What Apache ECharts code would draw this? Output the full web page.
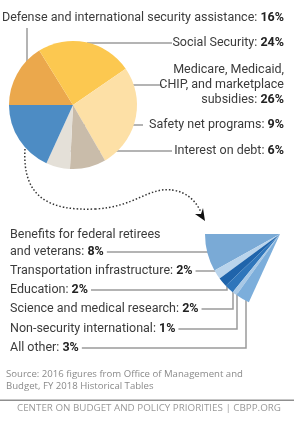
<!DOCTYPE html>
<html>
<head>
<meta charset="utf-8">
<script src="https://cdn.jsdelivr.net/npm/echarts@6/dist/echarts.min.js"></script>
<style>
  html, body { margin: 0; padding: 0; background: #fff; }
  #chart { width: 299px; height: 426px; }
</style>
</head>
<body>
<div id="chart"></div>
<script>
// main pie, clockwise from 9 o'clock
var mainNames = [
  'Defense and international security assistance',
  'Social Security',
  'Medicare, Medicaid,\nCHIP, and marketplace\nsubsidies',
  'Safety net programs',
  'Interest on debt'
];
var mainValues = [16, 24, 26, 9, 6];
var mainColors = ['#eba84c', '#fcc850', '#fde0a6', '#c9bcaa', '#e4e0d8', '#4d8cc4'];

// the blue slice, broken out into the fan
var subNames = [
  'Benefits for federal retirees\nand veterans',
  'Transportation infrastructure',
  'Education',
  'Science and medical research',
  'Non-security international',
  'All other'
];
var subValues = [8, 2, 2, 2, 1, 3];
var subColors = ['#7aaad6', '#b9d4ec', '#1f64ab', '#2f76bb', '#a9c9e6', '#7caedb'];

var sourceLines = [
  'Source: 2016 figures from Office of Management and',
  'Budget, FY 2018 Historical Tables'
];
var footer = 'CENTER ON BUDGET AND POLICY PRIORITIES | CBPP.ORG';

var FONT = 'Roboto, sans-serif';
var FS = 12.5;

var sum = function (a) { return a.reduce(function (s, v) { return s + v; }, 0); };
var otherTotal = sum(subValues);

// where the labels sit and where their leader lines start
var mainLabelPos = [
  { y: 18, line: [[27, 62], [27, 28], [27, 28]] },
  { y: 43, line: [[87, 43], [172, 43], [172, 43]] },
  { y: 84.5, line: [[133, 85], [162, 85], [162, 85]] },
  { y: 125, line: [[84, 125], [143, 125], [143, 125]] },
  { y: 151, line: [[68, 151], [172, 151], [172, 151]] }
];
var subLabelPos = [
  { y: 243.5, ly: 252, from: [212, 252] },
  { y: 271, ly: 271, from: [221, 271] },
  { y: 290, ly: 290, from: [227, 283] },
  { y: 309, ly: 309, from: [233, 289] },
  { y: 329, ly: 329, from: [237, 292] },
  { y: 348, ly: 348, from: [246, 297] }
];

var ctx = document.createElement('canvas').getContext('2d');
function textWidth(s, bold) {
  ctx.font = (bold ? 'bold ' : '') + FS + 'px ' + FONT;
  return ctx.measureText(s).width;
}

function richLabel(name, value) {
  var lines = name.split('\n');
  return lines.map(function (l, i) {
    if (i === lines.length - 1) return '{n|' + l + ': }{b|' + value + '%}';
    return '{n|' + l + '}';
  }).join('\n');
}

function richStyle(lh) {
  return {
    n: { fontFamily: FONT, fontSize: FS, color: '#3b3b3b', lineHeight: lh },
    b: { fontFamily: FONT, fontSize: FS, color: '#222', fontWeight: 'bold', lineHeight: lh }
  };
}

var mainData = mainNames.map(function (n, i) {
  return { name: n, value: mainValues[i], itemStyle: { color: mainColors[i] } };
});
mainData.push({
  name: 'other', value: otherTotal,
  itemStyle: { color: mainColors[5] },
  label: { show: false }, labelLine: { show: false }
});

var subData = subNames.map(function (n, i) {
  return { name: n, value: subValues[i], itemStyle: { color: subColors[i] } };
});

var chart = echarts.init(document.getElementById('chart'));

var option = {
  animation: false,
  series: [
    {
      type: 'pie',
      center: [73, 105],
      radius: [0, 64],
      startAngle: 180,
      clockwise: true,
      silent: true,
      data: mainData,
      itemStyle: { borderWidth: 0 },
      label: {
        show: true,
        overflow: 'none',
        formatter: function (p) { return richLabel(p.name, p.value); },
        rich: richStyle(15)
      },
      labelLine: { show: true, lineStyle: { color: '#9b9b9b', width: 1.5 } },
      labelLayout: function (p) {
        var pos = mainLabelPos[p.dataIndex];
        if (!pos) return {};
        return { x: 284, y: pos.y, align: 'right', verticalAlign: 'middle', labelLinePoints: pos.line };
      }
    },
    {
      type: 'pie',
      center: [280, 234],
      radius: [0, 75],
      startAngle: 180,
      endAngle: 180 + 360 * otherTotal / (otherTotal + sum(mainValues)),
      clockwise: false,
      silent: true,
      data: subData,
      itemStyle: { borderWidth: 0 },
      label: {
        show: true,
        overflow: 'none',
        formatter: function (p) { return richLabel(p.name, p.value); },
        rich: richStyle(17)
      },
      labelLine: { show: true, lineStyle: { color: '#9b9b9b', width: 1.5 } },
      labelLayout: function (p) {
        var pos = subLabelPos[p.dataIndex];
        var lines = subNames[p.dataIndex].split('\n');
        var last = lines[lines.length - 1];
        var endX = 10 + textWidth(last + ': ', false) + textWidth(subValues[p.dataIndex] + '%', true) + 3;
        var pts = [pos.from, [pos.from[0], pos.ly], [endX, pos.ly]];
        return { x: 10, y: pos.y, align: 'left', verticalAlign: 'middle', labelLinePoints: pts };
      }
    }
  ],
  graphic: [
    {
      type: 'bezierCurve', silent: true,
      shape: { x1: 25, y1: 149, cpx1: 22, cpy1: 198, cpx2: 50, cpy2: 211, x2: 95, y2: 209 },
      style: { fill: null, stroke: '#333', lineWidth: 1.5, lineDash: [1.5, 2] }
    },
    {
      type: 'bezierCurve', silent: true,
      shape: { x1: 95, y1: 209, cpx1: 135, cpy1: 207, cpx2: 148, cpy2: 187, x2: 172, y2: 190 },
      style: { fill: null, stroke: '#333', lineWidth: 1.5, lineDash: [1.5, 2] }
    },
    {
      type: 'bezierCurve', silent: true,
      shape: { x1: 172, y1: 190, cpx1: 188, cpy1: 192, cpx2: 196, cpy2: 202, x2: 201, y2: 212 },
      style: { fill: null, stroke: '#333', lineWidth: 1.5, lineDash: [1.5, 2] }
    },
    {
      type: 'polygon', silent: true,
      shape: { points: [[205, 221], [195, 214], [201, 214], [203, 208]] },
      style: { fill: '#111' }
    },
    {
      type: 'text', left: 6, top: 368, silent: true,
      style: { text: sourceLines.join('\n'), font: '9.6px "Open Sans", sans-serif', fill: '#8a8a8a', lineHeight: 12 }
    },
    {
      type: 'rect', silent: true,
      shape: { x: 0, y: 399.5, width: 294, height: 1.5 },
      style: { fill: '#8f8f8f' }
    },
    {
      type: 'text', left: 17, top: 403, silent: true,
      style: { text: footer, font: '9.8px "Open Sans", sans-serif', fill: '#9a9a9a' }
    }
  ]
};

chart.setOption(option);
</script>
</body>
</html>
